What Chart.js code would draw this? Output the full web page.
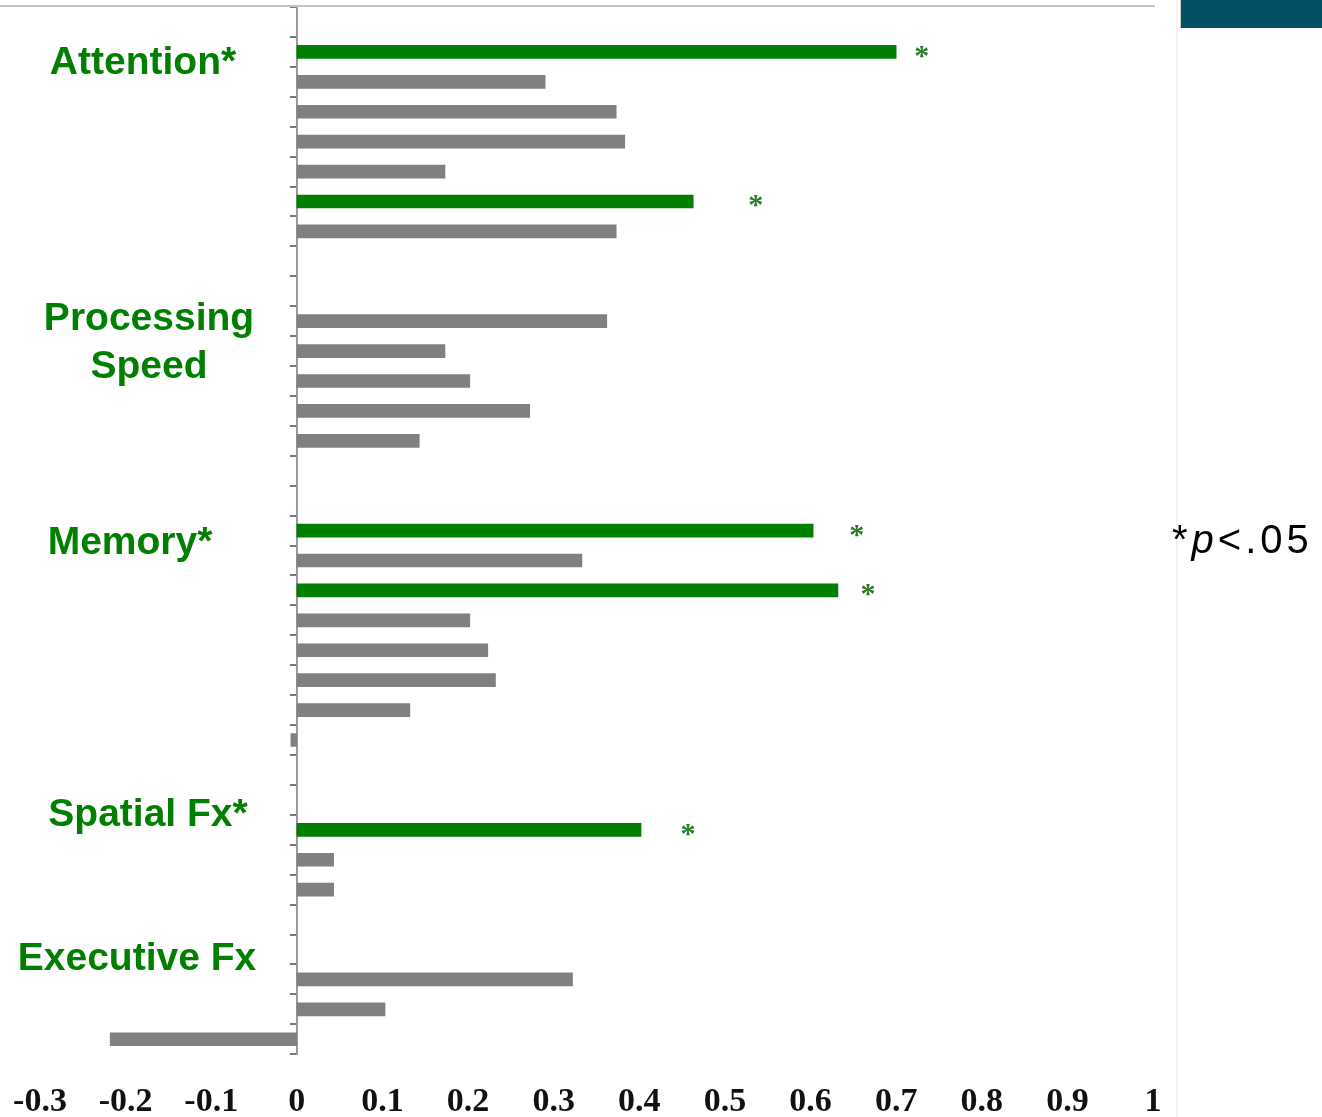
<!DOCTYPE html>
<html>
<head>
<meta charset="utf-8">
<title>Effect sizes by cognitive domain</title>
<script src="https://cdn.jsdelivr.net/npm/chart.js@4.4.1/dist/chart.umd.min.js"></script>
<style>
  html, body { margin: 0; padding: 0; background: #ffffff; }
  #wrap { position: relative; width: 1322px; height: 1117px; overflow: hidden; }
  #chart { position: absolute; left: 0; top: 0; }
  #topRule { position: absolute; left: 0; top: 5px; width: 1155px; height: 2px; background: #c4c4c4; }
  #sideRule { position: absolute; left: 1176px; top: 0; width: 2px; height: 1117px; background: #f4f4f4; }
  #banner { position: absolute; left: 1180px; top: 0; width: 142px; height: 28px; background: #034f63; border-left: 1px solid #c8c8c8; }
  #note { position: absolute; left: 1172px; top: 517px; font-family: "Liberation Sans", Arial, sans-serif; font-size: 40px; letter-spacing: 4px; color: #000; white-space: nowrap; }
  #note i { font-style: italic; }
</style>
</head>
<body>
<div id="wrap">
  <canvas id="chart" width="1322" height="1117"></canvas>
  <div id="topRule"></div>
  <div id="sideRule"></div>
  <div id="banner"></div>
  <div id="note">*<i>p</i>&lt;.05</div>
</div>
<script>
// One row per measure, grouped by cognitive domain (blank rows separate groups)
const rowDomain = [
  '', 'Attention', 'Attention', 'Attention', 'Attention', 'Attention', 'Attention', 'Attention',
  '', '',
  'Processing Speed', 'Processing Speed', 'Processing Speed', 'Processing Speed', 'Processing Speed',
  '', '',
  'Memory', 'Memory', 'Memory', 'Memory', 'Memory', 'Memory', 'Memory', 'Memory',
  '', '',
  'Spatial Fx', 'Spatial Fx', 'Spatial Fx',
  '', '',
  'Executive Fx', 'Executive Fx', 'Executive Fx'
];

// Effect size for each row (null = spacer row)
const effectSize = [
  null, 0.70, 0.29, 0.373, 0.383, 0.173, 0.463, 0.373,
  null, null,
  0.362, 0.173, 0.202, 0.272, 0.143,
  null, null,
  0.603, 0.333, 0.632, 0.202, 0.223, 0.232, 0.132, -0.007,
  null, null,
  0.402, 0.043, 0.043,
  null, null,
  0.322, 0.103, -0.218
];

// Rows significant at p < .05
const significant = [
  false, true, false, false, false, false, true, false,
  false, false,
  false, false, false, false, false,
  false, false,
  true, false, true, false, false, false, false, false,
  false, false,
  true, false, false,
  false, false,
  false, false, false
];

// Where each significance asterisk sits along the effect-size axis
const starRows = [1, 6, 17, 19, 27];
const starValues = [0.73, 0.536, 0.654, 0.667, 0.457];

// Domain headings shown at the left
const domainHeadings = [
  { lines: ['Attention*'] },
  { lines: ['Processing', 'Speed'] },
  { lines: ['Memory*'] },
  { lines: ['Spatial Fx*'] },
  { lines: ['Executive Fx'] }
];

// Effect-size axis ticks
const xTicks = [-0.3, -0.2, -0.1, 0, 0.1, 0.2, 0.3, 0.4, 0.5, 0.6, 0.7, 0.8, 0.9, 1];

const GREEN = '#007f00';
const GREY = '#808080';

const headingPlugin = {
  id: 'domainHeadings',
  afterDraw(chart) {
    const ctx = chart.ctx;
    const spots = [
      { x: 143, y: [63] },
      { x: 149, y: [319, 367] },
      { x: 130, y: [543] },
      { x: 148, y: [815] },
      { x: 137, y: [959] }
    ];
    ctx.save();
    ctx.fillStyle = GREEN;
    ctx.font = 'bold 39px "Liberation Sans", Arial, sans-serif';
    ctx.textAlign = 'center';
    ctx.textBaseline = 'middle';
    domainHeadings.forEach((h, i) => {
      h.lines.forEach((line, j) => ctx.fillText(line, spots[i].x, spots[i].y[j]));
    });
    ctx.restore();
  }
};

const starPlugin = {
  id: 'sigStars',
  afterDatasetsDraw(chart) {
    const ctx = chart.ctx;
    const xs = chart.scales.x, ys = chart.scales.y;
    ctx.save();
    ctx.fillStyle = '#2a7a2a';
    ctx.font = 'bold 30px "Liberation Serif", "Times New Roman", serif';
    ctx.textAlign = 'center';
    ctx.textBaseline = 'alphabetic';
    starRows.forEach((row, i) => {
      const px = xs.getPixelForValue(starValues[i]);
      const py = ys.getPixelForValue(row);
      ctx.fillText('*', px, py + 13);
    });
    ctx.restore();
  }
};

new Chart(document.getElementById('chart'), {
  type: 'bar',
  data: {
    labels: rowDomain,
    datasets: [{
      data: effectSize,
      backgroundColor: significant.map(s => (s ? GREEN : GREY)),
      borderWidth: 0,
      barThickness: 13
    }]
  },
  options: {
    indexAxis: 'y',
    responsive: false,
    animation: false,
    devicePixelRatio: 1,
    layout: { padding: { left: 40, right: 169, top: 7, bottom: -34 } },
    plugins: { legend: { display: false }, tooltip: { enabled: false } },
    scales: {
      x: {
        type: 'linear',
        position: 'bottom',
        min: -0.3,
        max: 1,
        afterBuildTicks(scale) { scale.ticks = xTicks.map(v => ({ value: v })); },
        afterFit(scale) { scale.paddingLeft = 0; scale.paddingRight = 0; },
        grid: { display: false, drawTicks: false },
        border: { display: false },
        ticks: {
          autoSkip: false,
          maxRotation: 0,
          padding: 28,
          color: '#111',
          font: { family: '"Liberation Serif", "Times New Roman", serif', size: 34, weight: 'bold', lineHeight: 1.2 },
          callback: v => String(v)
        }
      },
      y: {
        type: 'category',
        position: { x: 0 },
        offset: true,
        grid: { display: true, drawOnChartArea: false, drawTicks: true, tickLength: 6, color: '#7a7a7a', lineWidth: 2, offset: true },
        border: { display: true, color: '#9a9a9a', width: 2 },
        ticks: { display: false }
      }
    }
  },
  plugins: [headingPlugin, starPlugin]
});
</script>
</body>
</html>
